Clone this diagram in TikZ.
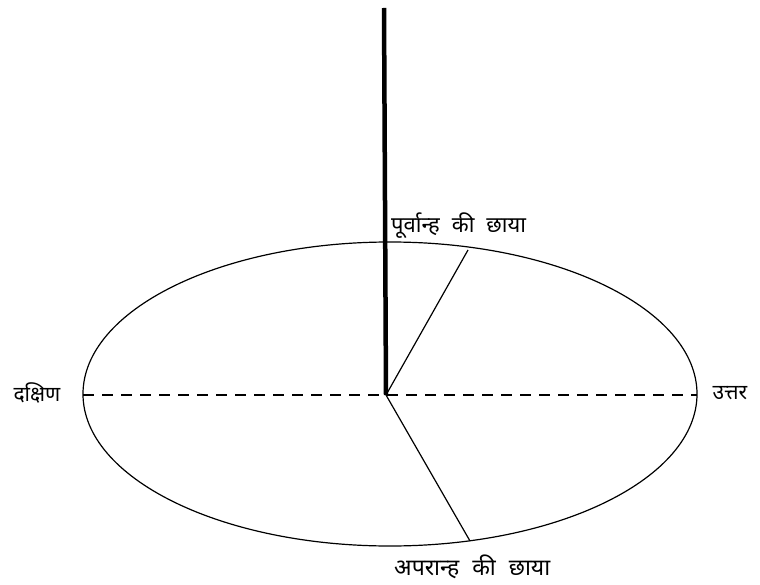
\documentclass[tikz,border=0pt]{standalone}
\usepackage{fontspec}
\newfontfamily\deva[Script=Devanagari]{Noto Sans}
\begin{document}
\begin{tikzpicture}[x=1pt,y=-1pt,
  lbl/.style={font=\deva\fontsize{22}{24}\selectfont, inner sep=0pt},
  blbl/.style={font=\deva\bfseries\fontsize{21}{23}\selectfont, inner sep=0pt},
  thin line/.style={line width=1.2pt, black}]
\useasboundingbox (0,0) rectangle (760,585);
\coordinate (O) at (386,395);
\coordinate (top) at (384,8);
\coordinate (L) at (83,395);
\coordinate (R) at (697,395);
\coordinate (m) at (468,250);
\coordinate (a) at (470,541);
\draw[thin line] (390,394) ellipse [x radius=307, y radius=152];
\draw[line width=1.1pt, dash pattern=on 11pt off 8pt] (L) -- (R);
\draw[line width=4.5pt, line cap=butt] (top) -- (O);
\draw[thin line] (O) -- (m);
\draw[thin line] (O) -- (a);
\node[lbl, anchor=west] (mlbl) at (391,226) {पूर्वान्ह\hspace{12pt}की\hspace{12pt}छाया};
\node[lbl, anchor=west, font=\deva\fontsize{23}{25}\selectfont] (albl) at (394,567) {अपरान्ह\hspace{13pt}की\hspace{13pt}छाया};
\node[blbl] (s) at (37,393) {दक्षिण};
\node[blbl] (n) at (730,393) {उत्तर};
\end{tikzpicture}
\end{document}
